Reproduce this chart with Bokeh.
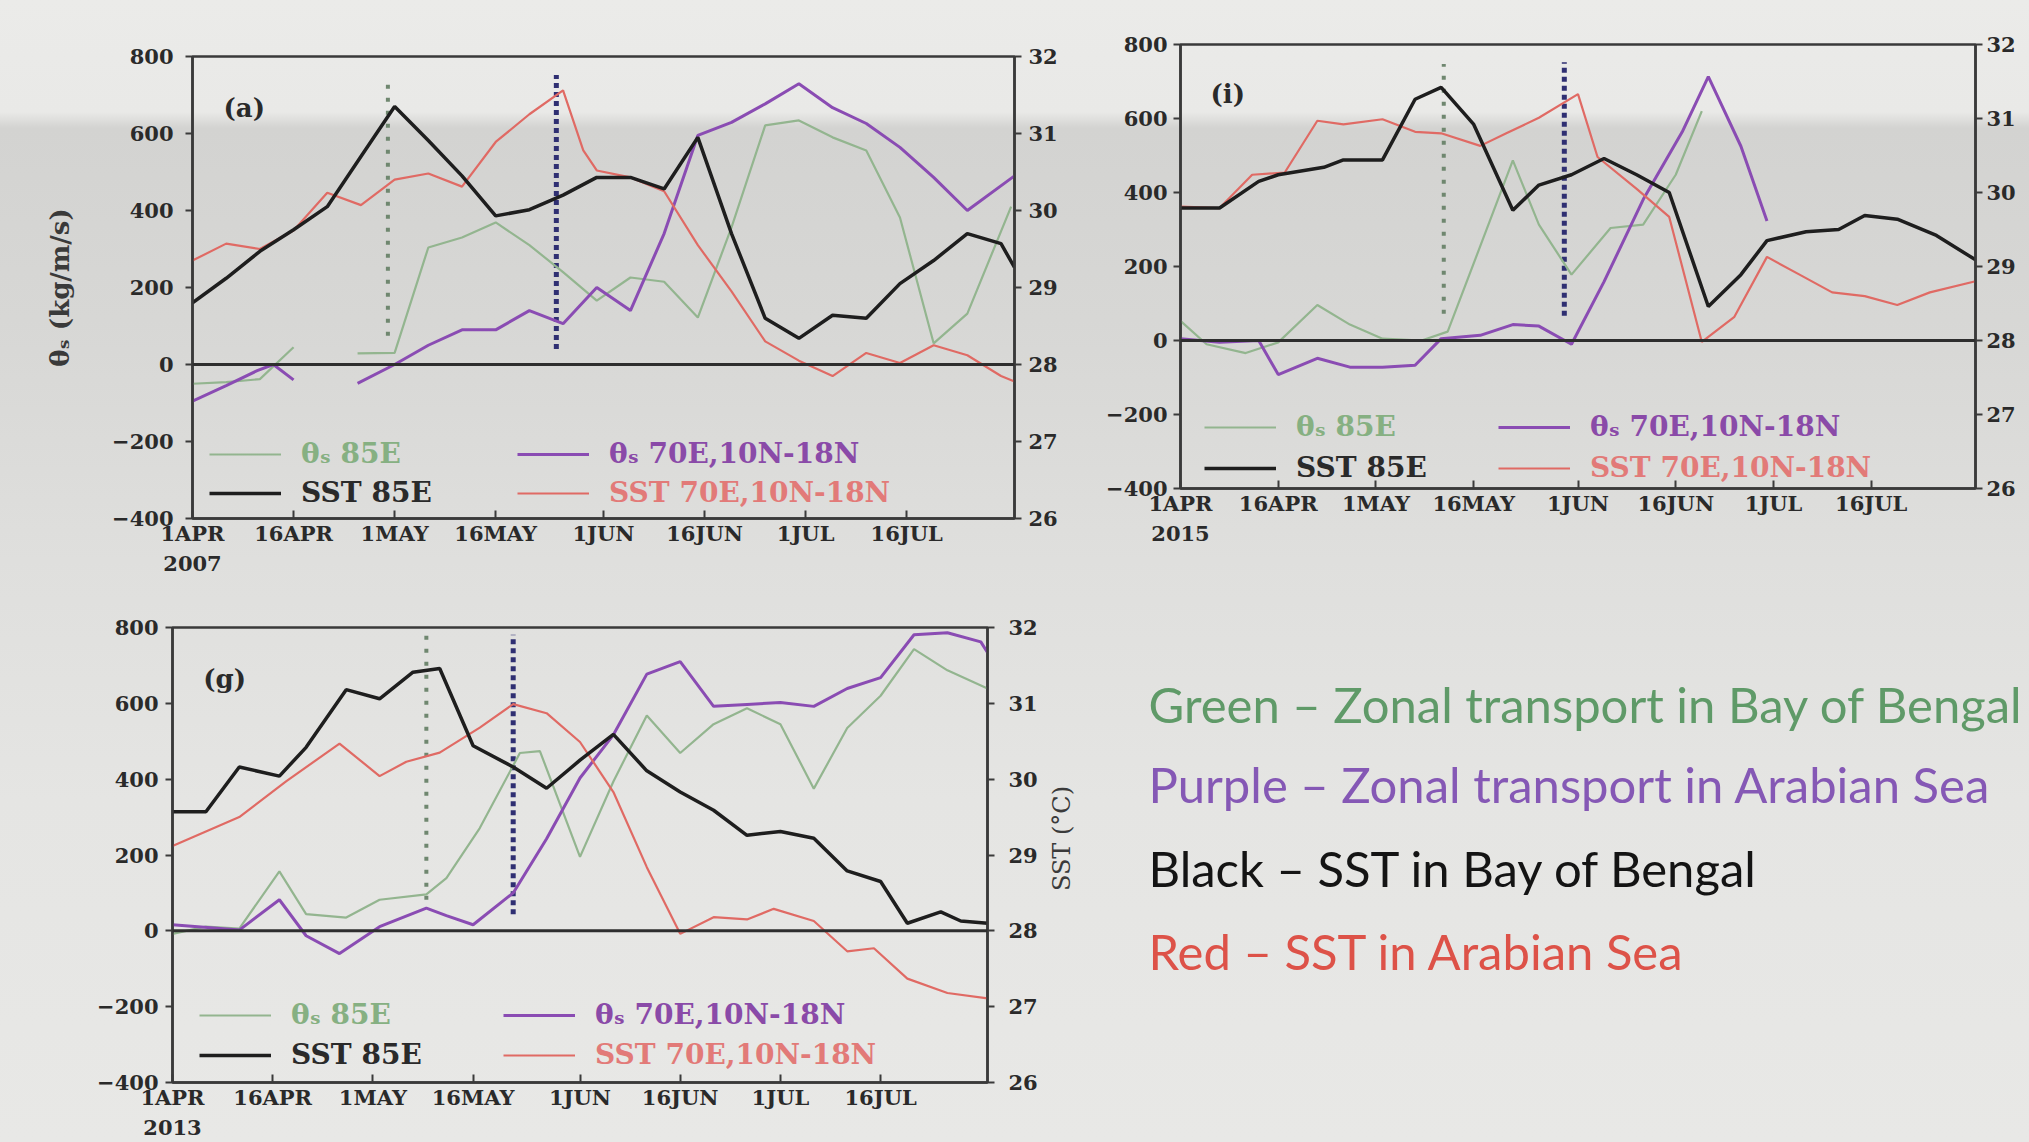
import math
from bokeh.plotting import figure
from bokeh.models import Range1d, LinearAxis, FixedTicker, Span, Legend, LegendItem, Label
from bokeh.layouts import row, column
from bokeh.embed import file_html
from bokeh.resources import INLINE

nan = float("nan")

# ---------------- data ----------------
x_tick_days = [0, 15, 30, 45, 61, 76, 91, 106]
x_tick_labels = ["1APR", "16APR", "1MAY", "16MAY", "1JUN", "16JUN", "1JUL", "16JUL"]
left_ticks = [-400, -200, 0, 200, 400, 600, 800]
right_ticks = [26, 27, 28, 29, 30, 31, 32]
legend_labels = ["θₛ 85E", "θₛ 70E,10N-18N", "SST 85E", "SST 70E,10N-18N"]

# panel (a) 2007
a_green_days = [0, 5, 10, 15, 20, 24.5, 30, 35, 40, 45, 50, 55, 60, 65, 70, 75, 80, 85, 90, 95, 100, 105, 110, 115, 121.5]
a_green = [-50, -46, -38, 45, nan, 29, 30, 304, 330, 369, 310, 240, 166, 226, 215, 122, 356, 621, 634, 590, 556, 382, 55, 132, 410]
a_purple_days = [0, 5, 9.6, 12, 15, 20, 24.5, 30, 35, 40, 45, 50, 55, 60, 65, 70, 75, 80, 85, 90, 95, 100, 105, 110, 115, 122]
a_purple = [-95, -55, -16, 0, -40, nan, -49, 0, 50, 90, 90, 140, 106, 200, 140, 340, 595, 629, 677, 729, 667, 626, 564, 486, 400, 490]
a_sst85_days = [0, 5, 10, 15, 20, 25, 30, 35, 40, 45, 50, 55, 60, 65, 70, 75, 80, 85, 90, 95, 100, 105, 110, 115, 120, 122]
a_sst85 = [28.80, 29.12, 29.47, 29.75, 30.05, 30.70, 31.35, 30.91, 30.45, 29.93, 30.01, 30.20, 30.43, 30.43, 30.28, 30.95, 29.70, 28.60, 28.34, 28.64, 28.60, 29.05, 29.35, 29.70, 29.57, 29.26]
a_sst70_days = [0, 5, 10, 15, 20, 25, 30, 35, 40, 45, 50, 55, 58, 60, 65, 70, 75, 80, 85, 90, 95, 100, 105, 110, 115, 120, 122]
a_sst70 = [29.35, 29.57, 29.50, 29.74, 30.23, 30.07, 30.40, 30.48, 30.31, 30.89, 31.25, 31.56, 30.78, 30.52, 30.43, 30.25, 29.55, 28.95, 28.30, 28.05, 27.85, 28.15, 28.02, 28.25, 28.12, 27.85, 27.78]
a_onset_days = [29, 54]
a_onset_low = [75, 40]
a_onset_high = [745, 752]

# panel (i) 2015
i_green_days = [0, 4, 10, 15, 21, 26, 31, 37, 41, 46, 51, 55, 60, 66, 71, 76, 80]
i_green = [53, -10, -34, -5, 96, 43, 5, 0, 24, 255, 487, 313, 178, 304, 313, 448, 620]
i_purple_days = [0, 6, 12, 15, 21, 26, 31, 36, 40, 46, 51, 55, 60, 65, 71, 77, 81, 86, 90]
i_purple = [5, -5, 0, -92, -48, -72, -72, -67, 5, 14, 43, 39, -10, 159, 381, 564, 713, 525, 323]
i_sst85_days = [0, 6, 12, 15, 22, 25, 31, 36, 40, 45, 51, 55, 60, 65, 70, 75, 81, 86, 90, 96, 101, 105, 110, 116, 122]
i_sst85 = [29.79, 29.79, 30.15, 30.24, 30.34, 30.44, 30.44, 31.26, 31.42, 30.92, 29.76, 30.10, 30.24, 30.46, 30.24, 30.00, 28.46, 28.89, 29.35, 29.47, 29.50, 29.69, 29.64, 29.42, 29.09]
i_sst70_days = [0, 6, 11, 16, 21, 25, 31, 36, 40, 46, 50, 55, 61, 64, 70, 75, 80, 85, 90, 95, 100, 105, 110, 115, 122]
i_sst70 = [29.81, 29.79, 30.24, 30.27, 30.97, 30.92, 30.99, 30.82, 30.80, 30.63, 30.80, 31.01, 31.33, 30.48, 30.05, 29.67, 27.98, 28.32, 29.13, 28.89, 28.65, 28.60, 28.48, 28.65, 28.80]
i_onset_days = [40.4, 58.9]
i_onset_low = [72, 67]
i_onset_high = [747, 752]

# panel (g) 2013
g_green_days = [0, 5, 10, 16, 20, 26, 31, 38, 41, 46, 52, 55, 61, 66, 71, 76, 81, 86, 91, 96, 101, 106, 111, 116, 122]
g_green = [-8, 11, 6, 157, 44, 35, 82, 96, 139, 271, 469, 474, 195, 394, 568, 469, 545, 587, 545, 375, 535, 620, 743, 687, 639]
g_purple_days = [0, 10, 16, 20, 25, 31, 38, 41, 45, 51, 56, 61, 66, 71, 76, 81, 86, 91, 96, 101, 106, 111, 116, 121, 122]
g_purple = [16, 2, 82, -13, -60, 11, 60, 40, 16, 100, 243, 403, 517, 677, 710, 592, 597, 602, 592, 639, 668, 781, 786, 762, 734]
g_sst85_days = [0, 5, 10, 16, 20, 26, 31, 36, 40, 45, 51, 56, 61, 66, 71, 76, 81, 86, 91, 96, 101, 106, 110, 115, 118, 122]
g_sst85 = [29.57, 29.57, 30.16, 30.04, 30.42, 31.18, 31.06, 31.41, 31.46, 30.44, 30.16, 29.88, 30.25, 30.59, 30.11, 29.83, 29.59, 29.26, 29.31, 29.22, 28.79, 28.65, 28.10, 28.25, 28.13, 28.10]
g_sst70_days = [0, 10, 17, 25, 31, 35, 40, 46, 51, 56, 61, 66, 71, 76, 81, 86, 90, 96, 101, 105, 110, 116, 122]
g_sst70 = [29.12, 29.50, 29.97, 30.47, 30.04, 30.23, 30.35, 30.68, 30.99, 30.87, 30.49, 29.83, 28.84, 27.96, 28.18, 28.15, 28.29, 28.13, 27.73, 27.77, 27.37, 27.18, 27.11]
g_onset_days = [38, 51]
g_onset_low = [82, 44]
g_onset_high = [781, 781]

notes = ["Green – Zonal transport in Bay of Bengal",
         "Purple – Zonal transport in Arabian Sea",
         "Black – SST in Bay of Bengal",
         "Red – SST in Arabian Sea"]

# ---------------- style ----------------
FONT = "DejaVu Serif"
C_GREEN = "#93b58f"
C_PURPLE = "#8a4cb3"
C_BLACK = "#1e1e1e"
C_RED = "#e06a64"
C_AXIS = "#3a3a3a"
LEG_TEXT = ["#86b082", "#8a4aa8", "#2a2a2a", "#e27a78"]
NOTE_COLORS = ["#5f9a68", "#8558b5", "#141414", "#dd5248"]


def make_panel(width, height, bl, br, bt, bb, year, tag, data, onset, legend_spots,
               ystand, rstand, ylabel=None):
    p = figure(width=width, height=height, x_range=Range1d(0, 122), y_range=Range1d(-400, 800),
               output_backend="svg", toolbar_location=None,
               min_border_left=bl, min_border_right=br, min_border_top=bt, min_border_bottom=bb)
    p.background_fill_alpha = 0
    p.border_fill_alpha = 0
    p.outline_line_color = C_AXIS
    p.outline_line_width = 2.5
    p.xgrid.visible = False
    p.ygrid.visible = False
    p.extra_y_ranges = {"sst": Range1d(26, 32)}

    xa = p.xaxis[0]
    xa.ticker = FixedTicker(ticks=x_tick_days)
    labels = list(x_tick_labels)
    labels[0] = labels[0] + "\n" + year
    xa.major_label_overrides = {d: l for d, l in zip(x_tick_days, labels)}
    xa.major_tick_in = 8
    xa.major_tick_out = 0
    xa.minor_tick_line_color = None
    xa.major_label_standoff = 2

    ya = p.yaxis[0]
    ya.ticker = FixedTicker(ticks=left_ticks)
    ya.major_tick_in = 0
    ya.major_tick_out = 7
    ya.minor_tick_line_color = None
    ya.major_label_standoff = ystand
    if ylabel:
        ya.axis_label = ylabel
        ya.axis_label_standoff = 34
        ya.axis_label_text_font = FONT
        ya.axis_label_text_font_style = "bold"
        ya.axis_label_text_font_size = "26px"
        ya.axis_label_text_color = C_AXIS

    ra = LinearAxis(y_range_name="sst", ticker=FixedTicker(ticks=right_ticks))
    ra.major_tick_in = 0
    ra.major_tick_out = 7
    ra.minor_tick_line_color = None
    ra.major_label_standoff = rstand
    p.add_layout(ra, "right")

    for ax in (xa, ya, ra):
        ax.axis_line_color = C_AXIS
        ax.axis_line_width = 2.5
        ax.major_tick_line_color = C_AXIS
        ax.major_tick_line_width = 2
        ax.major_label_text_font = FONT
        ax.major_label_text_font_style = "bold"
        ax.major_label_text_font_size = "21px"
        ax.major_label_text_color = "#2a2a2a"

    p.add_layout(Span(location=0, dimension="width", line_color="#2e2e2e", line_width=3))

    od, olow, ohigh = onset
    p.segment(x0=[od[0]], y0=[olow[0]], x1=[od[0]], y1=[ohigh[0]],
              line_color="#6f876f", line_width=4, line_dash="4 9")
    p.segment(x0=[od[1]], y0=[olow[1]], x1=[od[1]], y1=[ohigh[1]],
              line_color="#2f2f72", line_width=5, line_dash="5 4")

    (gd, gv), (pd_, pv), (bd, bv), (rd, rv) = data
    r_g = p.line(gd, gv, line_color=C_GREEN, line_width=2.2)
    r_p = p.line(pd_, pv, line_color=C_PURPLE, line_width=3)
    r_r = p.line(rd, rv, line_color=C_RED, line_width=2.2, y_range_name="sst")
    r_b = p.line(bd, bv, line_color=C_BLACK, line_width=3.5, y_range_name="sst")

    p.add_layout(Label(x=4.6, y=665, text=tag, text_font=FONT, text_font_style="bold",
                       text_font_size="26px", text_color="#2a2a2a", text_baseline="middle"))

    rends = [r_g, r_p, r_b, r_r]
    (x1, x2, y1, y2) = legend_spots
    spots = [(x1, y1), (x2, y1), (x1, y2), (x2, y2)]
    for lab, rend, col, (lx, ly) in zip(legend_labels, rends, LEG_TEXT, spots):
        leg = Legend(items=[LegendItem(label=lab, renderers=[rend])], location=(lx, ly - 16),
                     glyph_width=72, glyph_height=20, label_standoff=20, padding=0, margin=0,
                     spacing=0, background_fill_alpha=0, border_line_alpha=0,
                     label_text_font=FONT, label_text_font_style="bold",
                     label_text_font_size="28px", label_text_color=col)
        p.add_layout(leg)
    return p


fig_a = make_panel(1080, 590, 192, 66, 56, 72, "2007", "(a)",
                   [(a_green_days, a_green), (a_purple_days, a_purple),
                    (a_sst85_days, a_sst85), (a_sst70_days, a_sst70)],
                   (a_onset_days, a_onset_low, a_onset_high), (17, 325, 64, 25),
                   12, 7, ylabel="θₛ (kg/m/s)")
fig_i = make_panel(949, 590, 100, 54, 44, 102, "2015", "(i)",
                   [(i_green_days, i_green), (i_purple_days, i_purple),
                    (i_sst85_days, i_sst85), (i_sst70_days, i_sst70)],
                   (i_onset_days, i_onset_low, i_onset_high), (24, 318, 61, 20),
                   6, 4)
fig_g = make_panel(1040, 552, 172, 47, 37, 60, "2013", "(g)",
                   [(g_green_days, g_green), (g_purple_days, g_purple),
                    (g_sst85_days, g_sst85), (g_sst70_days, g_sst70)],
                   (g_onset_days, g_onset_low, g_onset_high), (27, 331, 67, 27),
                   7, 14)

# text area beside panel (g); its ranges are page pixels so the labels sit where the slide has them
fig_t = figure(width=989, height=552, x_range=Range1d(1040, 2029), y_range=Range1d(1082, 627),
               output_backend="svg", toolbar_location=None, x_axis_location=None,
               y_axis_location=None, min_border_left=0, min_border_right=0,
               min_border_top=37, min_border_bottom=60)
fig_t.background_fill_alpha = 0
fig_t.border_fill_alpha = 0
fig_t.outline_line_color = None
fig_t.xgrid.visible = False
fig_t.ygrid.visible = False
fig_t.add_layout(Label(x=1061, y=838, text="SST (°C)", angle=math.pi / 2, text_font=FONT,
                       text_font_size="24px", text_color=C_AXIS, text_align="center",
                       text_baseline="middle"))
for txt, col, yy in zip(notes, NOTE_COLORS, [703, 783, 867, 950]):
    fig_t.add_layout(Label(x=1148, y=yy, text=txt, text_font="Lato", text_font_size="49px",
                           text_color=col, text_baseline="middle", text_align="left"))

layout = column(row(column(fig_a), column(fig_i)), row(column(fig_g), column(fig_t)),
                styles={"background": "linear-gradient(to bottom, #ebebe9 0px, #e9e9e7 112px, "
                                      "#d3d3d1 128px, #d7d7d5 320px, #dfdfdd 560px, #e5e5e3 800px, "
                                      "#e8e8e6 1142px)"})

open("out.html", "w").write(file_html(layout, INLINE))
